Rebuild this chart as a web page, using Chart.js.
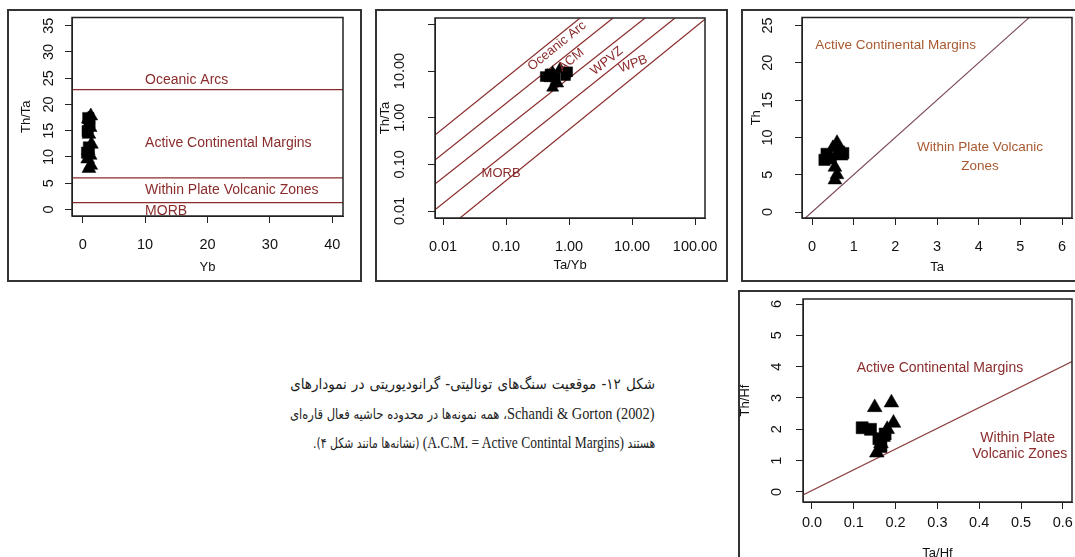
<!DOCTYPE html>
<html>
<head>
<meta charset="utf-8">
<script src="https://cdn.jsdelivr.net/npm/chart.js@4.4.1/dist/chart.umd.min.js"></script>
<style>
  html, body { margin: 0; padding: 0; background: #fff; width: 1075px; height: 557px; overflow: hidden; position: relative; }
  .frame { position: absolute; box-sizing: border-box; border: 2px solid #333; }
  canvas { position: absolute; }
  .cap { position: absolute; right: 420px; height: 29px; line-height: 29px; direction: rtl; white-space: nowrap;
         font-family: "DejaVu Sans Condensed", "DejaVu Sans", sans-serif; font-stretch: condensed;
         font-size: 14px; color: #222; transform-origin: right center; }
  .cap bdi { font-family: "Liberation Serif", serif; font-stretch: normal; font-size: 1.12em; }
</style>
</head>
<body>

<div class="cap" id="cap1" style="top:370px">شکل ۱۲- موقعیت سنگ‌های تونالیتی- گرانودیوریتی در نمودارهای</div>
<div class="cap" id="cap2" style="top:399px"><bdi dir="ltr">Schandi &amp; Gorton (2002)</bdi>، همه نمونه‌ها در محدوده حاشیه فعال قاره‌ای</div>
<div class="cap" id="cap3" style="top:428px">هستند <bdi dir="ltr">(A.C.M. = Active Contintal Margins)</bdi> (نشانه‌ها مانند شکل ۴).</div>

<script>
// ---- panel 1: Th/Ta vs Yb
const p1XTicks = [0, 10, 20, 30, 40];
const p1YTicks = [0, 5, 10, 15, 20, 25, 30, 35];
const p1Bounds = [22.8, 6.0, 1.3];
const p1TriX = [1.0, 1.3, 0.8, 1.2, 0.9, 1.4, 1.0, 1.2, 0.9, 1.3];
const p1TriY = [7.8, 8.4, 9.6, 10.3, 11.2, 12.4, 14.3, 15.6, 17.2, 17.8];
const p1SqX = [0.7, 1.0, 0.8, 1.1, 0.9];
const p1SqY = [10.8, 11.8, 14.9, 16.6, 17.4];

// ---- panel 2: Th/Ta vs Ta/Yb (log-log)
const p2Ticks = [0.01, 0.1, 1, 10, 100];
const p2XLabels = ['0.01', '0.10', '1.00', '10.00', '100.00'];
const p2YLabels = ['0.01', '0.10', '1.00', '10.00', ''];
const p2LineX = [[0.00746, 1.50], [0.00746, 4.99], [0.00746, 16.1], [0.00746, 48.2], [0.0186, 144]];
const p2LineY = [[0.427, 136.8], [0.124, 136.8], [0.038, 136.8], [0.0106, 136.8], [0.00708, 129]];
const p2TriX = [0.45, 0.55, 0.62, 0.55, 0.72, 0.50, 0.66];
const p2TriY = [8.0, 9.2, 6.0, 4.4, 11.0, 7.0, 5.4];
const p2SqX = [0.42, 0.50, 0.95, 0.88, 0.60];
const p2SqY = [7.6, 8.6, 9.6, 8.0, 7.4];

// ---- panel 3: Th vs Ta
const p3XTicks = [0, 1, 2, 3, 4, 5, 6];
const p3YTicks = [0, 5, 10, 15, 20, 25];
const p3LineX = [-0.16, 5.21];
const p3LineY = [-0.8, 26.05];
const p3TriX = [0.55, 0.60, 0.55, 0.65, 0.60, 0.70, 0.50];
const p3TriY = [4.3, 5.0, 6.0, 8.0, 9.3, 7.5, 8.6];
const p3SqX = [0.30, 0.35, 0.45, 0.75, 0.65];
const p3SqY = [7.0, 7.8, 7.2, 7.9, 8.1];

// ---- panel 4: Th/Hf vs Ta/Hf
const p4XTicks = [0, 0.1, 0.2, 0.3, 0.4, 0.5, 0.6];
const p4YTicks = [0, 1, 2, 3, 4, 5, 6];
const p4LineX = [-0.0215, 0.622];
const p4LineY = [-0.095, 4.16];
const p4TriX = [0.150, 0.190, 0.195, 0.180, 0.165, 0.155, 0.170];
const p4TriY = [2.70, 2.85, 2.20, 2.00, 1.55, 1.25, 1.75];
const p4SqX = [0.120, 0.140, 0.160, 0.165, 0.175];
const p4SqY = [2.05, 2.00, 1.70, 1.45, 1.85];

const zip = (xs, ys) => xs.map((x, i) => ({x: x, y: ys[i]}));

function marks(tx, ty, sx, sy, r) {
  return [
    {data: zip(tx, ty), pointStyle: 'triangle', pointRadius: r, backgroundColor: '#000', borderColor: '#000', borderWidth: 0.5, order: 0},
    {data: zip(sx, sy), pointStyle: 'rect', pointRadius: r, backgroundColor: '#000', borderColor: '#000', borderWidth: 0.5, order: 0}
  ];
}

function line(xs, ys, color) {
  return {data: zip(xs, ys), showLine: true, pointRadius: 0, borderColor: color, borderWidth: 1.2, order: 1};
}

const frameBox = {
  id: 'frameBox',
  afterDatasetsDraw(chart) {
    const {ctx, chartArea: a} = chart;
    ctx.save();
    ctx.strokeStyle = '#222';
    ctx.lineWidth = 1.5;
    ctx.strokeRect(a.left, a.top, a.right - a.left, a.bottom - a.top);
    ctx.restore();
  }
};

function fieldText(items, color, size) {
  return {
    id: 'fieldText',
    afterDatasetsDraw(chart) {
      const {ctx, chartArea: a, scales} = chart;
      ctx.save();
      ctx.beginPath();
      ctx.rect(a.left, a.top, a.right - a.left, a.bottom - a.top);
      ctx.clip();
      ctx.font = size + 'px "Liberation Sans", Arial, sans-serif';
      ctx.fillStyle = color;
      ctx.textBaseline = 'middle';
      items.forEach(t => {
        ctx.save();
        ctx.translate(scales.x.getPixelForValue(t.x), scales.y.getPixelForValue(t.y));
        ctx.rotate((t.rot || 0) * Math.PI / 180);
        ctx.textAlign = t.align || 'center';
        ctx.fillText(t.text, 0, 0);
        ctx.restore();
      });
      ctx.restore();
    }
  };
}

const measurer = document.createElement('canvas').getContext('2d');

function makePanel(p) {
  const f = p.frame, b = p.box;
  const fr = document.createElement('div');
  fr.className = 'frame';
  fr.style.cssText = `left:${f.l}px;top:${f.t}px;width:${f.w}px;height:${f.h}px`;
  document.body.appendChild(fr);
  const cv = document.createElement('canvas');
  cv.width = f.w;
  cv.height = f.h;
  cv.style.left = f.l + 'px';
  cv.style.top = f.t + 'px';
  document.body.appendChild(cv);

  const tl = 7;
  const tickFont = {family: 'Liberation Sans', size: 14.5};
  const titleFont = {family: 'Liberation Sans', size: 13};
  measurer.font = tickFont.size + 'px "Liberation Sans"';
  const widest = Math.max(...p.yLabels.map(s => measurer.measureText(s).width));

  new Chart(cv, {
    type: 'scatter',
    data: {datasets: p.datasets},
    options: {
      responsive: false,
      animation: false,
      events: [],
      layout: {padding: {left: 0, top: b.t - f.t, right: f.l + f.w - b.r, bottom: 0}},
      plugins: {legend: {display: false}, tooltip: {enabled: false}},
      scales: {
        x: {
          type: p.type, position: 'bottom', bounds: 'data', min: p.xMin, max: p.xMax,
          afterBuildTicks: s => { s.ticks = p.xTicks.map(v => ({value: v})); },
          afterFit: s => { s.height = f.t + f.h - b.b; s.paddingLeft = 0; s.paddingRight = 0; },
          grid: {display: true, drawOnChartArea: false, drawTicks: true, tickLength: tl, color: '#222'},
          border: {display: true, color: '#222', width: 1},
          ticks: {autoSkip: false, minRotation: 0, maxRotation: 0, color: '#111', font: tickFont,
                  padding: p.xTickC - b.b - tl - tickFont.size * 0.6,
                  callback: (v, i) => p.xLabels[i]},
          title: {display: true, text: p.xTitle, color: '#111', font: titleFont,
                  padding: {top: 0, bottom: f.t + f.h - p.xTitleC - titleFont.size * 0.6}}
        },
        y: {
          type: p.type, position: 'left', bounds: 'data', min: p.yMin, max: p.yMax,
          afterBuildTicks: s => { s.ticks = p.yTicks.map(v => ({value: v})); },
          afterFit: s => { s.width = b.l - f.l; s.paddingTop = 0; s.paddingBottom = 0; },
          grid: {display: true, drawOnChartArea: false, drawTicks: true, tickLength: tl, color: '#222'},
          border: {display: true, color: '#222', width: 1},
          ticks: {autoSkip: false, minRotation: 90, maxRotation: 90, crossAlign: 'center', color: '#111', font: tickFont,
                  padding: b.l - tl - p.yTickC - widest / 2,
                  callback: (v, i) => p.yLabels[i]},
          title: {display: true, text: p.yTitle, color: '#111', font: titleFont,
                  padding: {top: p.yTitleC - f.l - titleFont.size * 0.6, bottom: 0}}
        }
      }
    },
    plugins: [frameBox, fieldText(p.texts, p.textColor, p.textSize)]
  });
}

const red = '#8b2c2c';

makePanel({
  frame: {l: 7, t: 9, w: 355, h: 273}, box: {l: 72, t: 15, r: 343, b: 216},
  type: 'linear', xMin: -1.71, xMax: 41.71, yMin: -1.26, yMax: 36.56,
  xTicks: p1XTicks, xLabels: p1XTicks.map(String), yTicks: p1YTicks, yLabels: p1YTicks.map(String),
  xTickC: 245, yTickC: 49, xTitle: 'Yb', yTitle: 'Th/Ta', xTitleC: 267, yTitleC: 26,
  datasets: [
    ...p1Bounds.map(v => line([-1.71, 41.71], [v, v], red)),
    ...marks(p1TriX, p1TriY, p1SqX, p1SqY, 8)
  ],
  textColor: red, textSize: 14,
  texts: [
    {text: 'Oceanic Arcs', x: 10, y: 24.6, align: 'left'},
    {text: 'Active Continental Margins', x: 10, y: 12.6, align: 'left'},
    {text: 'Within Plate Volcanic Zones', x: 10, y: 3.6, align: 'left'},
    {text: 'MORB', x: 10, y: -0.4, align: 'left'}
  ]
});

makePanel({
  frame: {l: 375, t: 9, w: 353, h: 273}, box: {l: 435, t: 18, r: 705, b: 218},
  type: 'logarithmic', xMin: 0.00746, xMax: 144, yMin: 0.00708, yMax: 136.8,
  xTicks: p2Ticks, xLabels: p2XLabels, yTicks: p2Ticks, yLabels: p2YLabels,
  xTickC: 247, yTickC: 400, xTitle: 'Ta/Yb', yTitle: 'Th/Ta', xTitleC: 265, yTitleC: 385,
  datasets: [
    ...p2LineX.map((xs, i) => line(xs, p2LineY[i], red)),
    ...marks(p2TriX, p2TriY, p2SqX, p2SqY, 7)
  ],
  textColor: red, textSize: 13,
  texts: [
    {text: 'Oceanic Arc', x: 0.646, y: 34.3, rot: -39},
    {text: 'ACM', x: 1.08, y: 17.2, rot: -39},
    {text: 'WPVZ', x: 4.0, y: 16.4, rot: -39},
    {text: 'WPB', x: 10.4, y: 14.1, rot: -20},
    {text: 'MORB', x: 0.0834, y: 0.065}
  ]
});

makePanel({
  frame: {l: 741, t: 9, w: 360, h: 273}, box: {l: 802, t: 17, r: 1072, b: 218},
  type: 'linear', xMin: -0.24, xMax: 6.24, yMin: -0.80, yMax: 26.07,
  xTicks: p3XTicks, xLabels: p3XTicks.map(String), yTicks: p3YTicks, yLabels: p3YTicks.map(String),
  xTickC: 247, yTickC: 768, xTitle: 'Ta', yTitle: 'Th', xTitleC: 267, yTitleC: 756,
  datasets: [
    line(p3LineX, p3LineY, '#7d4c58'),
    ...marks(p3TriX, p3TriY, p3SqX, p3SqY, 8)
  ],
  textColor: '#a8592f', textSize: 13.5,
  texts: [
    {text: 'Active Continental Margins', x: 0.08, y: 22.3, align: 'left'},
    {text: 'Within Plate Volcanic', x: 4.03, y: 8.7},
    {text: 'Zones', x: 4.03, y: 6.15}
  ]
});

makePanel({
  frame: {l: 738, t: 290, w: 363, h: 300}, box: {l: 803, t: 298, r: 1072, b: 502},
  type: 'linear', xMin: -0.0215, xMax: 0.622, yMin: -0.32, yMax: 6.16,
  xTicks: p4XTicks, xLabels: p4XTicks.map(v => v.toFixed(1)), yTicks: p4YTicks, yLabels: p4YTicks.map(String),
  xTickC: 523, yTickC: 777, xTitle: 'Ta/Hf', yTitle: 'Th/Hf', xTitleC: 553, yTitleC: 745,
  datasets: [
    line(p4LineX, p4LineY, '#8e4444'),
    ...marks(p4TriX, p4TriY, p4SqX, p4SqY, 8.5)
  ],
  textColor: red, textSize: 14,
  texts: [
    {text: 'Active Continental Margins', x: 0.306, y: 3.94},
    {text: 'Within Plate', x: 0.492, y: 1.71},
    {text: 'Volcanic Zones', x: 0.497, y: 1.2}
  ]
});

// caption: shrink a little, then squeeze or stretch so each line spans its width
function fitLine(el, width, justify) {
  let size = 16;
  el.style.fontSize = size + 'px';
  while (el.scrollWidth > width && size > 14) {
    size -= 0.5;
    el.style.fontSize = size + 'px';
  }
  const natural = el.scrollWidth;
  if (natural > width) {
    el.style.transform = `scaleX(${width / natural})`;
  } else if (justify) {
    const gaps = (el.textContent.match(/ /g) || []).length;
    el.style.wordSpacing = ((width - natural) / gaps) + 'px';
  }
}
fitLine(document.getElementById('cap1'), 365, true);
fitLine(document.getElementById('cap2'), 365, true);
fitLine(document.getElementById('cap3'), 342, false);
</script>
</body>
</html>
